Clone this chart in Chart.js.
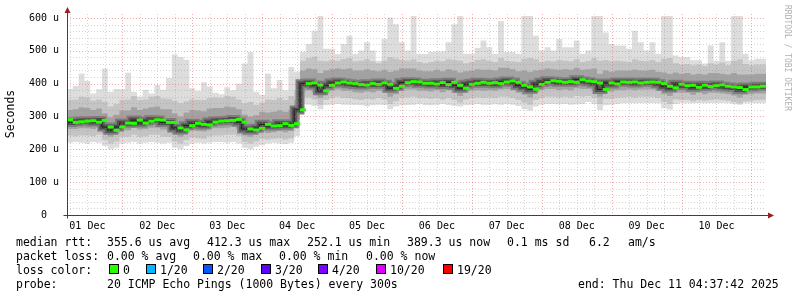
<!DOCTYPE html>
<html>
<head>
<meta charset="utf-8">
<script src="https://cdn.jsdelivr.net/npm/chart.js@4.4.1/dist/chart.umd.min.js"></script>
<style>
  html, body { margin: 0; padding: 0; background: #fff; }
  #wrap { width: 797px; height: 297px; }
</style>
</head>
<body>
<div id="wrap"><canvas id="smoke" width="797" height="297"></canvas></div>
<script>
// time axis: hours since 01 Dec 00:00, one value every 2 hours
var START_H = 5;
var STEP_H = 2;
var END_H = 245;

var dayLabels = ['01 Dec', '02 Dec', '03 Dec', '04 Dec', '05 Dec', '06 Dec', '07 Dec', '08 Dec', '09 Dec', '10 Dec'];
var yTicks = [0, 100, 200, 300, 400, 500, 600];

// median rtt (us)
var medianRtt = [
  290,282,284,286,287,283,288,268,258,268,280,279,289,280,286,290,289,282,282,265,259,272,279,276,274,283,286,287,288,291,
  283,262,259,264,276,271,272,278,273,278,320,400,402,396,378,395,402,405,402,400,397,396,400,398,402,398,386,392,403,406,
  405,401,401,399,403,397,404,395,386,398,401,404,401,403,400,405,408,404,395,390,383,398,404,409,407,404,406,404,412,408,
  406,402,382,402,399,405,404,405,402,404,405,404,400,392,387,398,394,395,389,395,391,394,396,392,390,388,382,390,390,392
];
// slowest ping
var maxRtt = [
  443,384,393,431,408,370,383,446,375,384,383,433,375,361,381,370,396,381,417,489,481,473,386,378,404,391,372,368,389,380,
  400,461,496,375,366,431,386,411,380,451,436,496,521,561,606,506,506,490,521,546,491,501,526,501,470,536,601,581,526,501,
  606,490,490,496,498,498,526,581,606,491,491,509,531,511,491,591,496,496,491,606,606,546,501,511,501,536,511,511,531,491,
  501,606,606,556,521,516,516,506,561,526,501,526,491,606,606,486,481,481,471,471,461,516,470,526,470,606,606,491,471,476
];
// fastest ping
var minRtt = [
  218,220,222,220,218,222,220,210,200,205,218,220,222,218,220,222,220,218,220,205,200,210,218,220,218,220,222,222,220,222,
  218,205,200,208,212,218,220,218,216,220,240,338,336,332,322,334,336,338,336,336,335,334,331,334,336,335,322,330,334,335,
  336,338,335,334,336,338,335,332,330,334,336,338,336,336,337,336,338,336,332,322,318,330,336,338,338,337,338,336,337,338,
  344,338,320,334,336,338,340,340,340,341,340,341,340,325,321,338,340,340,340,341,340,341,340,341,340,338,336,340,340,340
];
var p90Rtt = [
  356,350,352,360,358,348,352,345,330,338,350,352,362,350,352,360,362,355,354,348,340,346,352,350,350,356,358,356,362,360,
  352,340,345,336,342,352,350,356,350,362,380,470,478,482,470,468,472,470,475,478,468,470,474,468,462,470,480,476,472,470,
  474,466,462,466,470,468,474,472,470,462,466,472,474,470,466,478,470,468,466,476,478,474,466,470,468,472,470,468,474,466,
  470,478,470,472,468,470,468,466,474,470,468,472,466,476,478,462,458,460,456,458,454,462,458,464,456,470,474,460,456,458
];
var p75Rtt = [
  326,320,322,328,326,320,324,310,298,305,318,318,328,320,324,328,330,322,322,310,300,312,320,318,316,324,326,326,330,328,
  322,305,300,304,314,312,314,318,314,320,350,440,446,444,432,440,444,446,444,446,440,440,444,440,438,442,436,440,446,446,
  446,440,438,438,442,438,444,440,434,438,440,444,442,442,440,448,448,444,438,440,436,440,442,446,444,442,444,442,448,442,
  444,446,430,440,436,440,440,440,442,440,440,442,436,434,430,434,430,432,428,430,428,432,432,430,428,432,428,428,428,430
];
var p25Rtt = [
  266,262,262,264,264,262,266,250,238,246,260,258,266,260,262,266,266,260,260,244,238,250,258,256,254,262,264,264,266,268,
  262,242,238,244,254,250,252,256,252,256,290,376,380,372,356,370,378,382,378,378,374,372,376,374,378,374,360,368,378,382,
  382,378,378,376,380,374,380,372,362,374,378,380,378,380,378,382,384,380,372,366,358,374,380,384,384,380,382,380,386,384,
  384,378,360,378,376,380,380,382,380,382,382,382,378,368,362,374,372,372,366,372,368,372,372,370,368,364,358,366,368,370
];
var p10Rtt = [
  244,242,240,242,242,240,244,228,218,224,238,238,244,238,240,244,244,238,238,224,218,228,236,234,232,240,242,242,244,244,
  240,222,218,224,232,230,232,234,230,234,265,356,358,352,336,350,356,360,356,356,352,350,354,352,356,352,338,346,356,358,
  360,356,356,354,356,352,356,350,342,352,356,358,356,358,356,360,360,356,350,342,336,350,356,360,360,358,360,358,362,360,
  362,356,338,354,354,358,358,360,358,360,360,360,356,344,338,352,350,350,346,350,348,350,352,350,348,344,340,346,348,350
];

var lossLabels = ['0', '1/20', '2/20', '3/20', '4/20', '10/20', '19/20'];
var lossColors = ['#26ff00', '#00b8ff', '#0059ff', '#5e00ff', '#7e00ff', '#dd00ff', '#ff0000'];

var FONT_MONO = '"DejaVu Sans Mono", "Liberation Mono", monospace';

var hours = medianRtt.map(function (v, i) { return START_H + STEP_H * i; });

// stepped series, last step closed at the end time
function stepSeries(vals) {
  var pts = vals.map(function (v, i) { return { x: hours[i], y: v }; });
  pts.push({ x: END_H, y: vals[vals.length - 1] });
  return pts;
}

function band(vals, color, fillTarget, order) {
  return {
    data: stepSeries(vals),
    stepped: 'after',
    borderWidth: 0,
    borderColor: 'rgba(0,0,0,0)',
    pointRadius: 0,
    backgroundColor: color,
    fill: fillTarget === null ? false : fillTarget,
    order: order
  };
}

// grid lines and axes are drawn over the smoke, like rrdtool does
var gridPlugin = {
  id: 'rrdGrid',
  afterDatasetsDraw: function (chart) {
    var ctx = chart.ctx, a = chart.chartArea;
    var xs = chart.scales.x, ys = chart.scales.y;
    ctx.save();
    ctx.lineWidth = 1;
    ctx.setLineDash([1, 2]);
    var v, p;
    for (v = 20; v <= 600; v += 20) {
      p = Math.round(ys.getPixelForValue(v)) + 0.5;
      ctx.strokeStyle = v % 100 === 0 ? 'rgba(225,90,90,0.5)' : 'rgba(150,150,150,0.4)';
      ctx.beginPath(); ctx.moveTo(a.left, p); ctx.lineTo(a.right, p); ctx.stroke();
    }
    for (v = 6; v < END_H; v += 6) {
      if (v < START_H) continue;
      p = Math.round(xs.getPixelForValue(v)) + 0.5;
      ctx.strokeStyle = v % 24 === 0 ? 'rgba(225,90,90,0.5)' : 'rgba(150,150,150,0.4)';
      ctx.beginPath(); ctx.moveTo(p, a.top); ctx.lineTo(p, a.bottom); ctx.stroke();
    }
    ctx.setLineDash([]);
    // axes
    ctx.strokeStyle = '#404040';
    var x0 = Math.round(a.left) + 0.5, y0 = Math.round(a.bottom) + 0.5;
    ctx.beginPath(); ctx.moveTo(x0, y0 + 3); ctx.lineTo(x0, 11); ctx.stroke();
    ctx.beginPath(); ctx.moveTo(x0 - 4, y0); ctx.lineTo(a.right + 3, y0); ctx.stroke();
    ctx.fillStyle = '#9a1f1f';
    ctx.beginPath(); ctx.moveTo(x0, 7); ctx.lineTo(x0 - 3, 13); ctx.lineTo(x0 + 3, 13); ctx.closePath(); ctx.fill();
    ctx.beginPath(); ctx.moveTo(a.right + 8, y0); ctx.lineTo(a.right + 2, y0 - 3); ctx.lineTo(a.right + 2, y0 + 3); ctx.closePath(); ctx.fill();
    ctx.restore();
  }
};

var textPlugin = {
  id: 'rrdText',
  afterDraw: function (chart) {
    var ctx = chart.ctx;
    ctx.save();
    ctx.fillStyle = '#000';
    ctx.textBaseline = 'alphabetic';
    ctx.font = '11.5px ' + FONT_MONO;
    var rows = [
      { y: 246, items: [[16, 'median rtt:'], [107, '355.6 us avg'], [207, '412.3 us max'], [307, '252.1 us min'],
                        [407, '389.3 us now'], [507, '0.1 ms sd'], [589, '6.2'], [628, 'am/s']] },
      { y: 260, items: [[16, 'packet loss:'], [107, '0.00 % avg'], [193, '0.00 % max'], [279, '0.00 % min'], [366, '0.00 % now']] },
      { y: 274, items: [[16, 'loss color:']] },
      { y: 288, items: [[16, 'probe:'], [107, '20 ICMP Echo Pings (1000 Bytes) every 300s'], [578, 'end: Thu Dec 11 04:37:42 2025']] }
    ];
    rows.forEach(function (r) {
      r.items.forEach(function (it) { ctx.fillText(it[1], it[0], r.y); });
    });
    var swX = [109, 146, 203, 261, 318, 376, 443];
    lossLabels.forEach(function (lab, i) {
      ctx.fillStyle = lossColors[i];
      ctx.fillRect(swX[i], 264, 10, 10);
      ctx.strokeStyle = '#000';
      ctx.lineWidth = 1;
      ctx.strokeRect(swX[i] + 0.5, 264.5, 9, 9);
      ctx.fillStyle = '#000';
      ctx.fillText(lab, swX[i] + 14, 274);
    });
    // y axis title
    ctx.save();
    ctx.translate(14, 114);
    ctx.rotate(-Math.PI / 2);
    ctx.textAlign = 'center';
    ctx.fillText('Seconds', 0, 0);
    ctx.restore();
    // watermark
    ctx.save();
    ctx.translate(785, 5);
    ctx.rotate(Math.PI / 2);
    ctx.font = '8px ' + FONT_MONO;
    ctx.fillStyle = '#b0b0b0';
    ctx.textAlign = 'left';
    ctx.fillText('RRDTOOL / TOBI OETIKER', 0, 0);
    ctx.restore();
    ctx.restore();
  }
};

var greenTicks = medianRtt.map(function (v, i) { return { x: hours[i] + STEP_H / 2, y: v }; });

var chart = new Chart(document.getElementById('smoke'), {
  type: 'line',
  data: {
    datasets: [
      // 0: green median marks
      { data: greenTicks, showLine: false, pointStyle: 'line', pointRadius: 3.1, pointHoverRadius: 3.1,
        pointBorderWidth: 3, pointBorderColor: lossColors[0], borderColor: lossColors[0], order: 0 },
      // 1: thin dark median
      { data: stepSeries(medianRtt), stepped: 'after', borderColor: '#1e1e1e', borderWidth: 1, pointRadius: 0, fill: false, order: 1 },
      // 2, 3: dark core around the median
      { data: stepSeries(medianRtt), stepped: 'after', borderColor: '#4e4e4e', borderWidth: 5, pointRadius: 0, fill: false, order: 2 },
      { data: stepSeries(medianRtt), stepped: 'after', borderColor: '#7c7c7c', borderWidth: 9, pointRadius: 0, fill: false, order: 3 },
      // 4, 5: inner band
      band(p75Rtt, 'rgba(0,0,0,0)', null, 5),
      band(p25Rtt, '#a2a2a2', 4, 4),
      // 6, 7: middle band
      band(p90Rtt, 'rgba(0,0,0,0)', null, 7),
      band(p10Rtt, '#c4c4c4', 6, 6),
      // 8, 9: full spread
      band(maxRtt, 'rgba(0,0,0,0)', null, 9),
      band(minRtt, '#dddddd', 8, 8)
    ]
  },
  options: {
    responsive: false,
    animation: false,
    devicePixelRatio: 1,
    events: [],
    layout: { padding: { left: 0, right: 31, top: 13, bottom: 0 } },
    plugins: { legend: { display: false }, tooltip: { enabled: false } },
    scales: {
      x: {
        type: 'linear',
        min: START_H,
        max: END_H,
        grid: { display: false, drawTicks: false },
        border: { display: false },
        afterBuildTicks: function (s) {
          var t = [];
          for (var h = 6; h < END_H; h += 6) t.push({ value: h });
          s.ticks = t;
        },
        afterFit: function (s) { s.height = 82; },
        ticks: {
          autoSkip: false,
          maxRotation: 0,
          padding: 5,
          color: '#000',
          font: { family: FONT_MONO, size: 10 },
          callback: function (v) {
            if (v % 24 !== 12) return '';
            return dayLabels[Math.floor(v / 24)] || '';
          }
        }
      },
      y: {
        type: 'linear',
        min: 0,
        max: 612,
        grid: { display: false, drawTicks: false },
        border: { display: false },
        afterBuildTicks: function (s) {
          s.ticks = yTicks.map(function (v) { return { value: v }; });
        },
        afterFit: function (s) { s.width = 67; },
        ticks: {
          padding: 8,
          color: '#000',
          font: { family: FONT_MONO, size: 10 },
          callback: function (v) { return v === 0 ? '0  ' : v + ' u'; }
        }
      }
    }
  },
  plugins: [gridPlugin, textPlugin]
});
</script>
</body>
</html>
